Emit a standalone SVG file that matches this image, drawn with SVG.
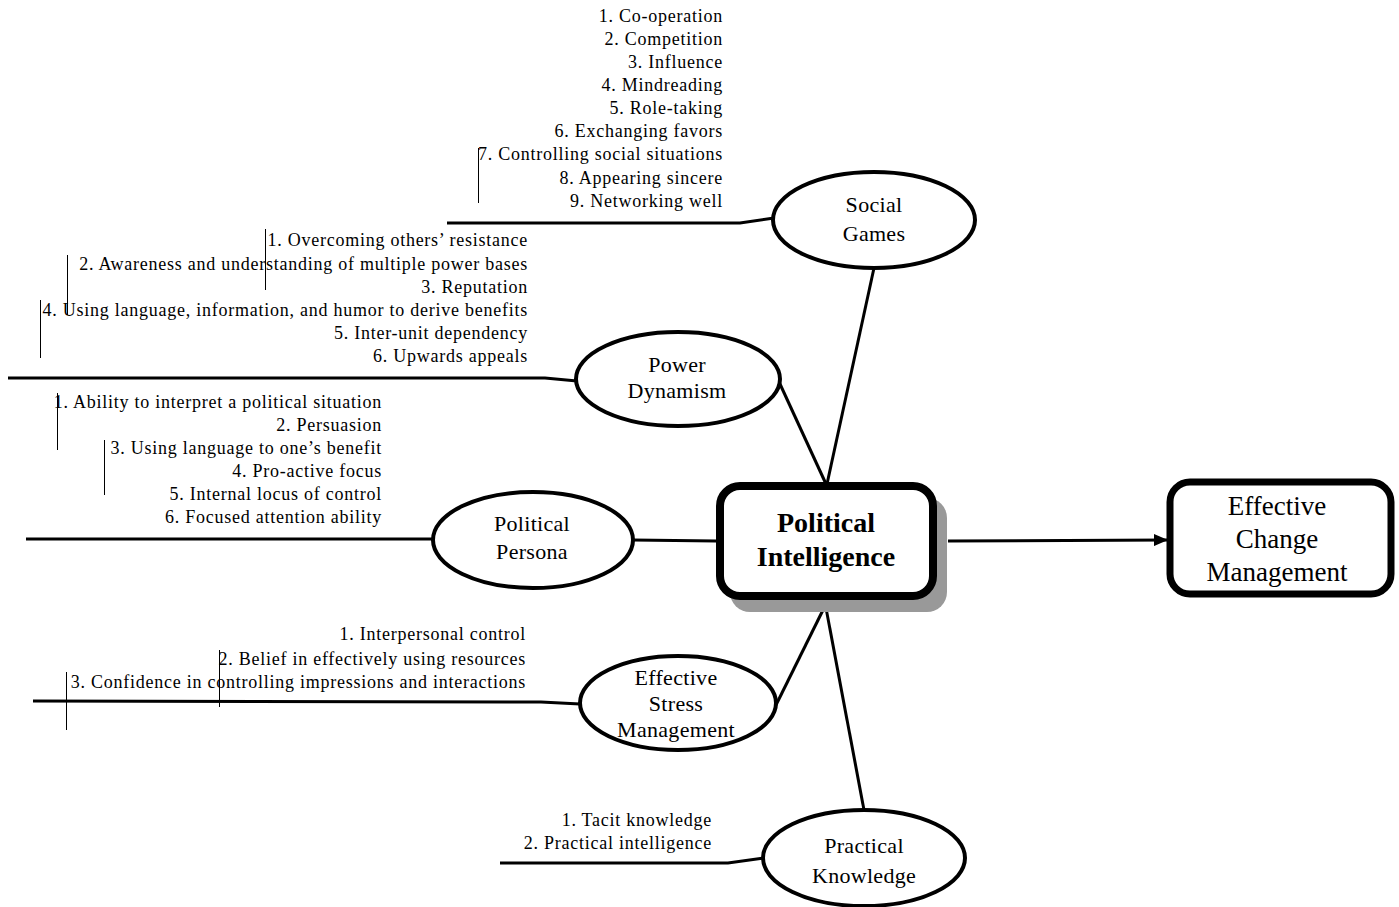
<svg xmlns="http://www.w3.org/2000/svg" width="1399" height="907" viewBox="0 0 1399 907">
<defs>
<marker id="arr" markerWidth="14" markerHeight="12" refX="13" refY="6" orient="auto" markerUnits="userSpaceOnUse" viewBox="0 0 14 12">
<path d="M0,0 L14,6 L0,12 z" fill="#000"/>
</marker>
<style>
.list{font-family:"Liberation Serif","Times New Roman",serif;font-size:18px;letter-spacing:0.75px;fill:#000;text-anchor:end}
.lbl{font-family:"Liberation Serif","Times New Roman",serif;font-size:22px;letter-spacing:0.3px;fill:#000;text-anchor:middle}
.big{font-family:"Liberation Serif","Times New Roman",serif;font-size:27px;fill:#000;text-anchor:middle}
.bold{font-family:"Liberation Serif","Times New Roman",serif;font-size:28px;font-weight:bold;fill:#000;text-anchor:middle}
.ell{fill:#fff;stroke:#000;stroke-width:4}
.con{fill:none;stroke:#000;stroke-width:3}
.cur{stroke:#000;stroke-width:1}
</style>
</defs>
<rect width="1399" height="907" fill="#fff"/>

<g id="connectors">
<line class="con" x1="827" y1="484" x2="874" y2="268"/>
<line class="con" x1="826" y1="484" x2="780" y2="384"/>
<line class="con" x1="633" y1="540" x2="716" y2="541"/>
<line class="con" x1="824" y1="608" x2="776" y2="705"/>
<line class="con" x1="826" y1="608" x2="864" y2="810"/>
<line class="con" x1="948" y1="541" x2="1167" y2="540" marker-end="url(#arr)"/>
<polyline class="con" points="447,223 740,223 774,218"/>
<polyline class="con" points="8,378 545,378 577,381"/>
<polyline class="con" points="26,539 433,539"/>
<polyline class="con" points="33,701 541,702 580,704"/>
<polyline class="con" points="500,863 728,863 764,858"/>
</g>

<g id="cursors">
<line class="cur" x1="478.5" y1="148" x2="478.5" y2="203"/>
<line class="cur" x1="265.5" y1="229" x2="265.5" y2="290"/>
<line class="cur" x1="67.5" y1="255" x2="67.5" y2="315"/>
<line class="cur" x1="40.5" y1="300" x2="40.5" y2="358"/>
<line class="cur" x1="57.5" y1="393" x2="57.5" y2="450"/>
<line class="cur" x1="104.5" y1="440" x2="104.5" y2="495"/>
<line class="cur" x1="219.5" y1="650" x2="219.5" y2="707"/>
<line class="cur" x1="66.5" y1="672" x2="66.5" y2="730"/>
</g>

<g id="political-intelligence">
<rect x="730" y="498" width="217" height="114" rx="20" fill="#999"/>
<rect x="720" y="486" width="213" height="110" rx="20" fill="#fff" stroke="#000" stroke-width="8"/>
<text class="bold" x="826" y="532">Political</text>
<text class="bold" x="826" y="566">Intelligence</text>
</g>

<g id="effective-change-management">
<rect x="1170" y="482" width="221" height="112" rx="20" fill="#fff" stroke="#000" stroke-width="7"/>
<text class="big" x="1277" y="515">Effective</text>
<text class="big" x="1277" y="548">Change</text>
<text class="big" x="1277" y="581">Management</text>
</g>

<g id="social-games">
<ellipse class="ell" cx="874" cy="220" rx="101" ry="48"/>
<text class="lbl" x="874" y="212">Social</text>
<text class="lbl" x="874" y="241">Games</text>
<g class="items">
<text class="list" x="723" y="22">1. Co-operation</text>
<text class="list" x="723" y="45">2. Competition</text>
<text class="list" x="723" y="68">3. Influence</text>
<text class="list" x="723" y="91">4. Mindreading</text>
<text class="list" x="723" y="114">5. Role-taking</text>
<text class="list" x="723" y="137">6. Exchanging favors</text>
<text class="list" x="723" y="160">7. Controlling social situations</text>
<text class="list" x="723" y="184">8. Appearing sincere</text>
<text class="list" x="723" y="207">9. Networking well</text>
</g>
</g>

<g id="power-dynamism">
<ellipse class="ell" cx="678" cy="379" rx="102" ry="47"/>
<text class="lbl" x="677" y="372">Power</text>
<text class="lbl" x="677" y="398">Dynamism</text>
<text class="list" x="528" y="246">1. Overcoming others’ resistance</text>
<text class="list" x="528" y="270">2. Awareness and understanding of multiple power bases</text>
<text class="list" x="528" y="293">3. Reputation</text>
<text class="list" x="528" y="316">4. Using language, information, and humor to derive benefits</text>
<text class="list" x="528" y="339">5. Inter-unit dependency</text>
<text class="list" x="528" y="362">6. Upwards appeals</text>
</g>

<g id="political-persona">
<ellipse class="ell" cx="533" cy="540" rx="100" ry="48"/>
<text class="lbl" x="532" y="531">Political</text>
<text class="lbl" x="532" y="559">Persona</text>
<text class="list" x="382" y="408">1. Ability to interpret a political situation</text>
<text class="list" x="382" y="431">2. Persuasion</text>
<text class="list" x="382" y="454">3. Using language to one’s benefit</text>
<text class="list" x="382" y="477">4. Pro-active focus</text>
<text class="list" x="382" y="500">5. Internal locus of control</text>
<text class="list" x="382" y="523">6. Focused attention ability</text>
</g>

<g id="effective-stress-management">
<ellipse class="ell" cx="678" cy="703" rx="98" ry="47"/>
<text class="lbl" x="676" y="685">Effective</text>
<text class="lbl" x="676" y="711">Stress</text>
<text class="lbl" x="676" y="737">Management</text>
<text class="list" x="526" y="640">1. Interpersonal control</text>
<text class="list" x="526" y="665">2. Belief in effectively using resources</text>
<text class="list" x="526" y="688">3. Confidence in controlling impressions and interactions</text>
</g>

<g id="practical-knowledge">
<ellipse class="ell" cx="864" cy="858" rx="101" ry="48"/>
<text class="lbl" x="864" y="853">Practical</text>
<text class="lbl" x="864" y="883">Knowledge</text>
<text class="list" x="712" y="826">1. Tacit knowledge</text>
<text class="list" x="712" y="849">2. Practical intelligence</text>
</g>
</svg>
